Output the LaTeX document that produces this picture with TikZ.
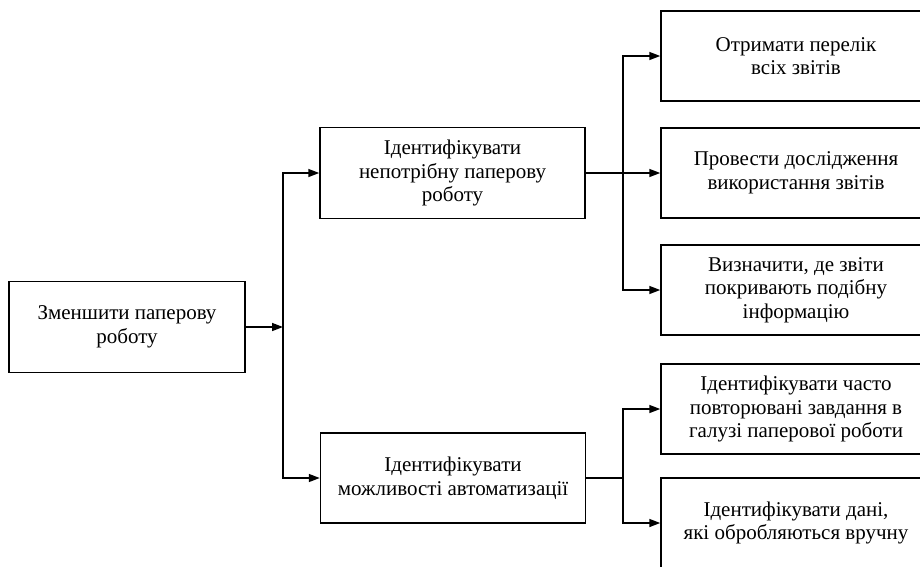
\documentclass[tikz,border=0pt]{standalone}
\usepackage{fontspec}
\setmainfont{Liberation Serif}
\usetikzlibrary{arrows.meta}
\usetikzlibrary{calc}

\begin{document}
\begin{tikzpicture}[x=1pt, y=-1pt, line width=1.5pt,
		blok/.style={draw, align=center, inner sep=0pt, font=\fontsize{21}{23.5}\selectfont},
		>={Triangle[length=11pt, width=8pt]}]
	
	\useasboundingbox (0,0) rectangle (920,566);
	
	\coordinate (j1) at (283,327);
	\coordinate (j2) at (623,173);
	\coordinate (j3) at (623,478);
	
	
	\node[blok, minimum width=236pt, minimum height=91pt] (zmen) at (127,327) {Зменшити паперову\\роботу};
	
	\node[blok, minimum width=265pt, minimum height=91pt] (nepotr) at (452.5,173) {Ідентифікувати\\непотрібну паперову\\роботу};
	
	\node[blok, minimum width=265pt, minimum height=90pt] (avtom) at (453,478) {Ідентифікувати\\можливості автоматизації};
	
	
	\node[blok, minimum width=270pt, minimum height=90pt] (perelik) at (796,56) {Отримати перелік\\всіх звітів};
	
	\node[blok, minimum width=270pt, minimum height=90pt] (dosl) at (796,173) {Провести дослідження\\використання звітів};
	
	\node[blok, minimum width=270pt, minimum height=90pt] (podib) at (796,290) {Визначити, де звіти\\покривають подібну\\інформацію};
	
	\node[blok, minimum width=270pt, minimum height=90pt] (chasto) at (796,409) {Ідентифікувати часто\\повторювані завдання в\\галузі паперової роботи};
	
	\node[blok, minimum width=270pt, minimum height=90pt] (vruchnu) at (796,523) {Ідентифікувати дані,\\які обробляються вручну};
	
	
	\draw[->] (zmen.east) -- (j1);
	\draw[->] (j1) |- (nepotr.west);
	\draw[->] (j1) |- (avtom.west);
	
	\draw[->] (nepotr.east) -- (dosl.west);
	\draw[->] (j2) |- (perelik.west);
	\draw[->] (j2) |- (podib.west);
	
	\draw (avtom.east) -- (j3);
	\draw[->] (j3) |- (chasto.west);
	\draw[->] (j3) |- (vruchnu.west);
	
\end{tikzpicture}
\end{document}
